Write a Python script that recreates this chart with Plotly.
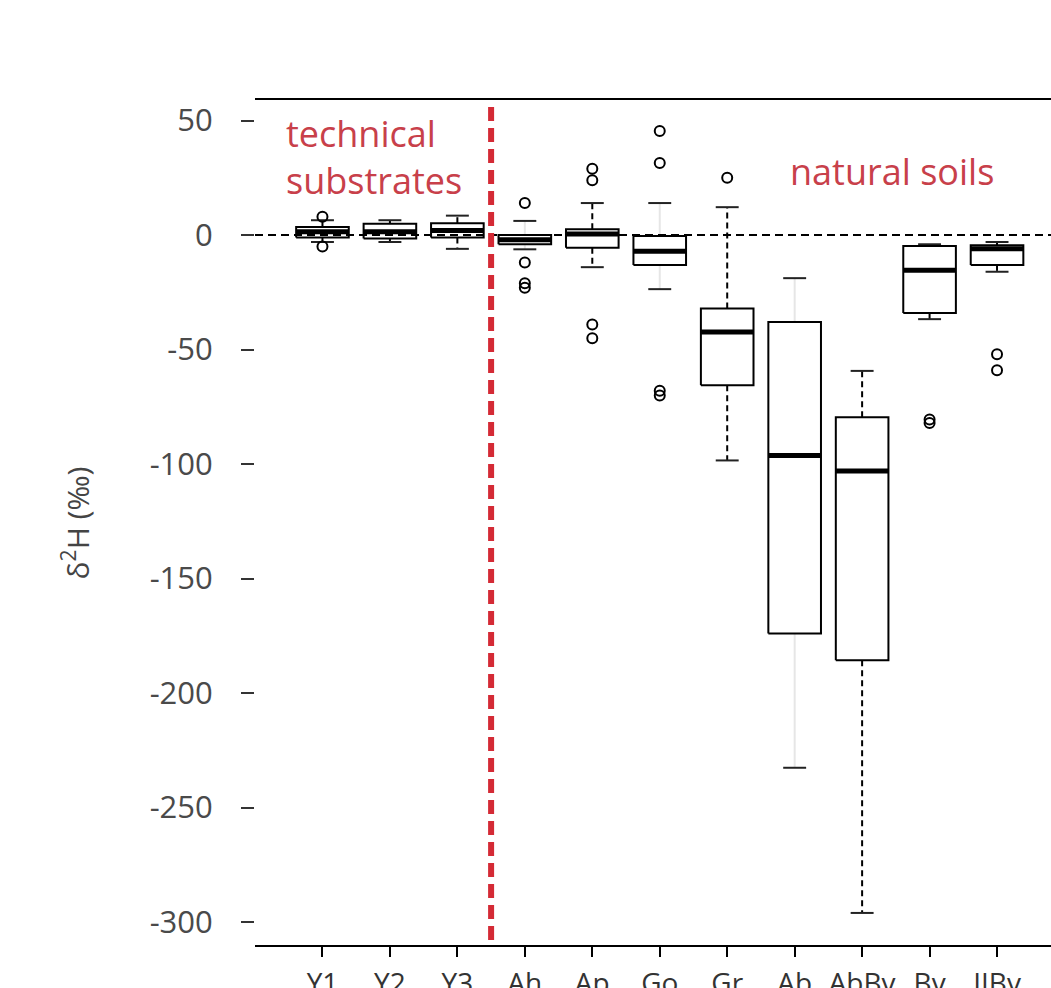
import plotly.graph_objects as go

# ---------------- data ----------------
positions = [1, 2, 3, 4, 5, 6, 7, 8, 9, 10, 11]
categories = ["Y1", "Y2", "Y3", "Ah", "Ap", "Go", "Gr", "Ab", "AbBv", "Bv", "IIBv"]
q1 = [-1.0, -1.5, -1.0, -4.0, -5.5, -13.0, -65.6, -174.0, -185.7, -34.0, -13.0]
median = [1.5, 1.5, 2.0, -2.0, 0.5, -7.0, -42.3, -96.2, -103.0, -15.3, -6.0]
q3 = [3.5, 5.0, 5.2, 0.0, 2.6, -0.4, -32.0, -37.9, -79.5, -4.8, -4.4]
lower_whisker = [-3.0, -3.0, -6.0, -6.2, -14.0, -23.6, -98.4, -232.6, -296.0, -36.7, -16.0]
upper_whisker = [6.5, 6.5, 8.5, 6.2, 14.0, 14.0, 12.2, -18.8, -59.3, -4.0, -3.0]
outliers = [
    [8.0, -5.0],
    [],
    [],
    [14.0, -12.0, -21.0, -23.0],
    [29.0, 24.0, -39.0, -45.0],
    [45.5, 31.5, -68.0, -70.0],
    [25.0],
    [],
    [],
    [-80.5, -82.0],
    [-52.0, -59.0],
]
y_tick_values = [50, 0, -50, -100, -150, -200, -250, -300]
y_tick_labels = ["50", "0", "-50", "-100", "-150", "-200", "-250", "-300"]
divider_x = 3.5
reference_y = 0

# ---------------- styles ----------------
half_box = 0.39
half_cap = 0.17
faint_whisker = [False, False, False, True, False, True, False, True, False, False, False]
red = "#d42a35"
label_red = "#c8404a"

# build paths
box_x, box_y, med_x, med_y, cap_x, cap_y = [], [], [], [], [], []
wd_x, wd_y, wf_x, wf_y, out_x, out_y = [], [], [], [], [], []
for i, p in enumerate(positions):
    box_x += [p - half_box, p + half_box, p + half_box, p - half_box, p - half_box, None]
    box_y += [q1[i], q1[i], q3[i], q3[i], q1[i], None]
    med_x += [p - half_box, p + half_box, None]
    med_y += [median[i], median[i], None]
    cap_x += [p - half_cap, p + half_cap, None, p - half_cap, p + half_cap, None]
    cap_y += [upper_whisker[i], upper_whisker[i], None, lower_whisker[i], lower_whisker[i], None]
    wx = [p, p, None, p, p, None]
    wy = [q3[i], upper_whisker[i], None, q1[i], lower_whisker[i], None]
    if faint_whisker[i]:
        wf_x += wx
        wf_y += wy
    else:
        wd_x += wx
        wd_y += wy
    for v in outliers[i]:
        out_x.append(p)
        out_y.append(v)

fig = go.Figure()
fig.add_trace(go.Scatter(x=wf_x, y=wf_y, mode="lines",
                         line=dict(color="#e6e6e6", width=2), hoverinfo="skip"))
fig.add_trace(go.Scatter(x=wd_x, y=wd_y, mode="lines",
                         line=dict(color="black", width=2, dash="6px,4px"), hoverinfo="skip"))
fig.add_trace(go.Scatter(x=cap_x, y=cap_y, mode="lines",
                         line=dict(color="#222", width=2), hoverinfo="skip"))
fig.add_trace(go.Scatter(x=box_x, y=box_y, mode="lines", fill="toself", fillcolor="white",
                         line=dict(color="black", width=2), hoverinfo="skip"))
fig.add_trace(go.Scatter(x=med_x, y=med_y, mode="lines",
                         line=dict(color="black", width=5), hoverinfo="skip"))
fig.add_trace(go.Scatter(x=out_x, y=out_y, mode="markers",
                         marker=dict(symbol="circle-open", size=10, color="black",
                                     line=dict(width=2)), hoverinfo="skip"))

# reference zero line
fig.add_shape(type="line", xref="paper", x0=0, x1=1, y0=reference_y, y1=reference_y,
              line=dict(color="black", width=2, dash="8px,5px"))
# red divider
fig.add_shape(type="line", x0=divider_x, x1=divider_x, yref="paper", y0=0.006, y1=1,
              line=dict(color=red, width=6, dash="14px,7px"))

fig.add_annotation(text="technical<br>substrates", xref="paper", yref="paper",
                   x=0.036, y=0.992, xanchor="left", yanchor="top", showarrow=False, align="left",
                   font=dict(family="Open Sans", size=36, color=label_red))
fig.add_annotation(text="natural soils", xref="paper", yref="paper",
                   x=0.80, y=0.915, xanchor="center", yanchor="middle", showarrow=False,
                   font=dict(family="Open Sans", size=36, color=label_red))
fig.add_annotation(text="δ<sup>2</sup>H (‰)", xref="paper", yref="paper",
                   x=-0.225, y=0.5, xanchor="center", yanchor="middle", showarrow=False,
                   textangle=-90, font=dict(family="Open Sans", size=30, color="#444"))

fig.update_layout(
    width=1051, height=988,
    margin=dict(l=255, r=0, t=100, b=43),
    paper_bgcolor="white", plot_bgcolor="white",
    showlegend=False,
    font=dict(family="Open Sans", color="#444"),
)
fig.update_xaxes(range=[0, 11.8], tickvals=positions, ticktext=categories,
                 showline=True, mirror=True, linecolor="black", linewidth=2,
                 ticks="outside", ticklen=10, tickwidth=2, tickcolor="black",
                 showgrid=False, zeroline=False, automargin=False,
                 tickfont=dict(family="Open Sans", size=28, color="#333"),
                 ticklabelstandoff=2)
fig.update_yaxes(range=[-310, 59], tickvals=y_tick_values, ticktext=y_tick_labels,
                 showline=False, ticks="outside", ticklen=13, tickwidth=2, tickcolor="#333",
                 showgrid=False, zeroline=False, automargin=False,
                 tickfont=dict(family="Open Sans", size=31, color="#4a4a4a"),
                 ticklabelstandoff=22)

fig.write_html("out.html")
